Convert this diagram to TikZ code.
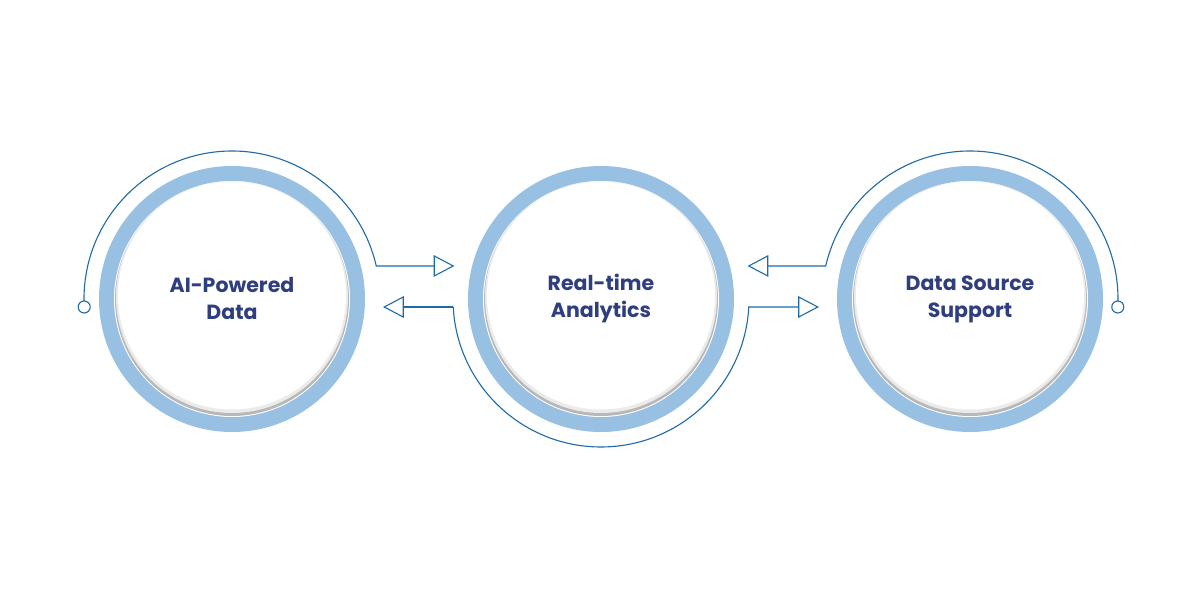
\documentclass[tikz,border=0pt]{standalone}
\usepackage{fontspec}
\setmainfont{Poppins}
\definecolor{ring}{HTML}{97C0E2}
\definecolor{lineblue}{HTML}{1F6AA8}
\definecolor{txt}{HTML}{2E3E7E}
\begin{document}
\begin{tikzpicture}[x=1pt,y=1pt,
  conn/.style={draw=lineblue,line width=1.1pt},
  tri/.style={draw=lineblue,line width=1.1pt,fill=white,line join=miter},
  lbl/.style={text=txt,font=\fontsize{20.5}{27}\selectfont\bfseries,align=center}]
\useasboundingbox (0,0) rectangle (1200,600);
\fill[white] (0,0) rectangle (1200,600);
\foreach \n/\cx in {A/232,B/601,C/970}{
  \fill[ring] (\cx,301) circle[radius=133];
  \fill[white] (\cx,301) circle[radius=118];
  \fill[black!28] (\cx,301) circle[radius=117];
  \fill[black!8] (\cx,303) circle[radius=116];
  \fill[white] (\cx,304.5) circle[radius=114];
  \coordinate (\n) at (\cx,301);
}
\node[lbl] (la) at (232,301) {AI-Powered\\Data};
\node[lbl] (lb) at (601,301) {Real-time\\Analytics};
\node[lbl] (lc) at (970,301) {Data Source\\Support};
% left arc
\coordinate (a1) at ([shift={(183.1:148)}]A);
\draw[conn] (a1) arc[start angle=183.1,end angle=12.9,radius=148] coordinate (a2) -- ++(58,0) coordinate (t1);
\draw[tri] (t1) -- ++(0,-10) -- ++(19,10) -- ++(-19,10) -- cycle;
\draw[lineblue,line width=1.1pt,fill=white] (a1) circle[radius=6];
% middle arc
\coordinate (b1) at ([shift={(183.1:148)}]B);
\draw[conn] (b1) arc[start angle=183.1,end angle=356.9,radius=148] coordinate (b2) -- ++(50,0) coordinate (t3);
\draw[conn] (b1) -- ++(-50,0) coordinate (t2);
\draw[tri] (t2) -- ++(0,-10) -- ++(-19,10) -- ++(19,10) -- cycle;
\draw[tri] (t3) -- ++(0,-10) -- ++(19,10) -- ++(-19,10) -- cycle;
% right arc
\coordinate (c1) at ([shift={(-3.1:148)}]C);
\draw[conn] (c1) arc[start angle=-3.1,end angle=167.1,radius=148] coordinate (c2) -- ++(-58,0) coordinate (t4);
\draw[tri] (t4) -- ++(0,-10) -- ++(-19,10) -- ++(19,10) -- cycle;
\draw[lineblue,line width=1.1pt,fill=white] (c1) circle[radius=6];
\end{tikzpicture}
\end{document}
